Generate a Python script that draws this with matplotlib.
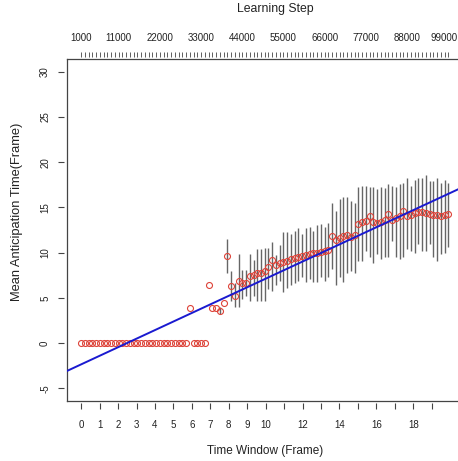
import numpy as np
import matplotlib
matplotlib.use('Agg')
import matplotlib.pyplot as plt
import matplotlib.transforms as mtransforms

plt.rcParams['font.family'] = ['Liberation Sans', 'DejaVu Sans']

# ---------------- data ----------------
steps = list(range(1000, 100000, 1000))          # learning steps (top axis)
window_max = 19.9                                   # time window of the last step

mean_time = ([0.0] * 29 + [3.9] + [0.0] * 4 +
             [6.4, 3.9, 3.9, 3.6, 4.4, 9.6, 6.3, 5.2, 6.9, 6.6,
              6.6, 7.4, 7.5, 7.7, 7.8, 8.0, 8.4, 9.2, 8.6, 8.9,
              9.0, 9.1, 9.3, 9.4, 9.5, 9.6, 9.7, 9.8, 10.0, 10.0,
              10.1, 10.2, 10.3, 11.8, 11.4, 11.6, 11.8, 11.9, 11.7, 12.0,
              13.2, 13.4, 13.5, 14.0, 13.4, 13.3, 13.4, 13.6, 14.3, 13.6,
              13.8, 14.0, 14.6, 14.1, 14.2, 14.4, 14.5, 14.5, 14.4, 14.3,
              14.2, 14.2, 14.1, 14.2, 14.3])

upper = ([np.nan] * 37 + [4.0, np.nan] +
         [11.5, 8.0, 6.6, 9.8, 8.1, 8.1, 9.9, 9.2, 10.4, 10.4,
          10.5, 10.5, 11.2, 9.7, 10.8, 12.3, 12.3, 12.1, 12.4, 12.7,
          12.1, 12.7, 12.8, 12.4, 13.0, 13.2, 12.8, 13.3, 15.5, 14.6,
          15.9, 16.1, 16.1, 15.7, 15.5, 17.3, 17.4, 17.4, 17.2, 17.2,
          17.0, 17.2, 17.1, 17.6, 17.4, 17.2, 17.6, 17.7, 18.3, 17.4,
          18.0, 18.2, 18.3, 18.6, 17.9, 17.9, 18.3, 17.7, 18.0, 17.7])

lower = ([np.nan] * 37 + [3.2, np.nan] +
         [7.8, 4.7, 4.0, 4.0, 4.9, 5.2, 4.7, 5.2, 4.7, 4.7,
          4.6, 6.0, 5.8, 6.4, 6.9, 5.7, 6.1, 6.4, 6.6, 6.9,
          7.3, 6.7, 7.1, 6.7, 6.7, 7.3, 6.9, 7.3, 8.2, 6.4,
          7.3, 6.7, 7.7, 8.0, 7.8, 9.1, 9.1, 10.2, 9.5, 8.9,
          9.9, 9.3, 9.5, 9.5, 11.3, 9.5, 9.3, 9.5, 10.4, 10.2,
          10.0, 10.9, 10.2, 10.2, 10.9, 9.5, 9.1, 9.9, 10.0, 10.6])

window_ticks = list(range(0, 20))
window_labels = ['0', '1', '2', '3', '4', '5', '6', '7', '8', '9', '10',
                 '', '12', '', '14', '', '16', '', '18', '']
step_labels_shown = [1000, 11000, 22000, 33000, 44000, 55000, 66000, 77000, 88000, 99000]
y_ticks = [-5, 0, 5, 10, 15, 20, 25, 30]
fit_intercept = -2.35
fit_slope = 0.947

# ---------------- figure ----------------
W, H = 458, 461
fig = plt.figure(figsize=(W / 100, H / 100), dpi=100)
left_px, right_px, top_px, bottom_px = 66.5, 463, 59, 401
ax = fig.add_axes([left_px / W, 1 - bottom_px / H,
                   (right_px - left_px) / W, (bottom_px - top_px) / H])

x = (np.array(steps) - steps[0]) / (steps[-1] - steps[0]) * window_max
ax.set_xlim(-0.04 * window_max, window_max * 1.04)
ax.set_ylim(-5 - 0.04 * 35, 30 + 0.04 * 35)

ax.vlines(x, lower, upper, color='#666666', lw=1.0, zorder=2)
ax.plot(x, mean_time, 'o', mfc='none', mec='#dd4238', ms=4.3, mew=0.8, zorder=3)
ax.axline((0, fit_intercept), slope=fit_slope, color='#1a1ad0', lw=1.4, zorder=4)

for s in ax.spines.values():
    s.set_color('#444444')
    s.set_linewidth(0.9)
ax.set_xticks([])
ax.set_yticks([])

ah = bottom_px - top_px
aw = right_px - left_px
# bottom axis
bax = ax.secondary_xaxis(-2.0 / ah)
bax.spines['bottom'].set_visible(False)
bax.set_xticks(window_ticks)
bax.set_xticklabels(window_labels)
bax.tick_params(length=4, width=0.8, color='#444444', pad=8.5, labelsize=7, labelcolor='#222222')

# top axis
tax = ax.secondary_xaxis(1 + 2.3 / ah)
tax.spines['top'].set_visible(False)
tax.set_xticks(x)
tax.set_xticklabels([str(s) if s in step_labels_shown else '' for s in steps])
tax.tick_params(length=3.6, width=0.6, color='#444444', pad=6.5, labelsize=7, labelcolor='#222222')
last_lbl = tax.get_xticklabels()[-1]
last_lbl.set_transform(last_lbl.get_transform() +
                       mtransforms.ScaledTranslation(-4.5 / 100, 0, fig.dpi_scale_trans))

# left axis
lax = ax.secondary_yaxis(-2.5 / aw)
lax.spines['left'].set_visible(False)
lax.set_yticks(y_ticks)
lax.set_yticklabels([str(v) for v in y_ticks], rotation=90, va='center')
lax.tick_params(length=4, width=0.8, color='#444444', pad=6, labelsize=7, labelcolor='#222222')

fig.text(275 / W, 1 - 9 / H, 'Learning Step', ha='center', va='center', fontsize=8.8, color='#222222')
fig.text(265 / W, 1 - 451 / H, 'Time Window (Frame)', ha='center', va='center', fontsize=8.5, color='#222222')
fig.text(17 / W, 1 - 212 / H, 'Mean Anticipation Time(Frame)', ha='center', va='center',
         rotation=90, fontsize=9.3, color='#222222')

fig.savefig('out.png', dpi=100)
